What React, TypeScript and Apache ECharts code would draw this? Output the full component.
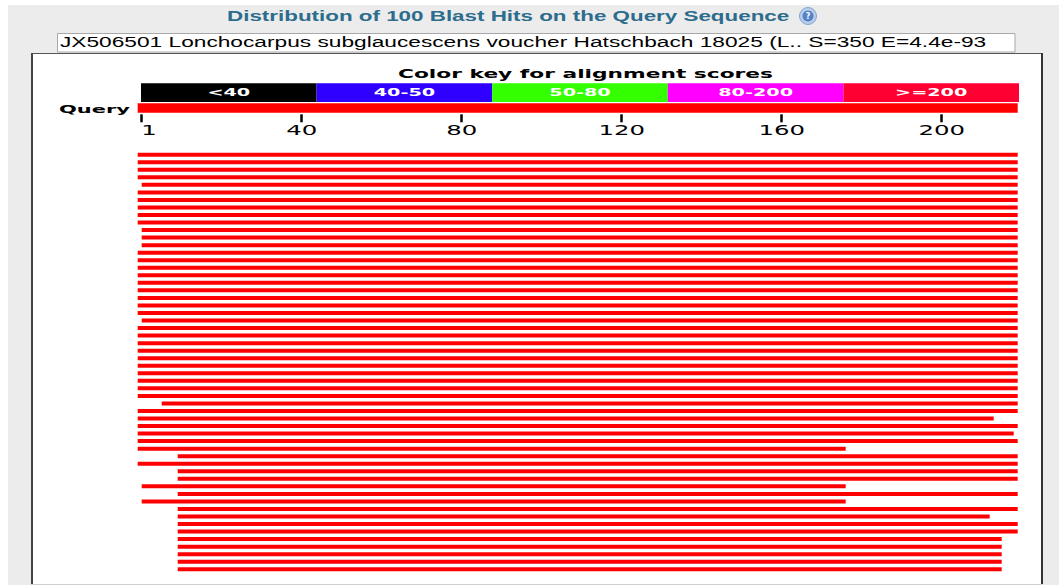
import React, { useEffect, useRef } from "react";
import * as echarts from "echarts";

const TITLE = "Distribution of 100 Blast Hits on the Query Sequence";
const HIT_DESC = "JX506501 Lonchocarpus subglaucescens voucher Hatschbach 18025 (L.. S=350 E=4.4e-93";
const KEY_TITLE = "Color key for alignment scores";
const KEY_LABELS = ["<40", "40-50", "50-80", "80-200", ">=200"];
const KEY_COLORS = ["#000000", "#2f00ff", "#33ff00", "#ff00ff", "#ff0033"];
const QUERY_LABEL = "Query";
const QUERY_LEN = 220;
const TICK_VALUES = [1, 41, 81, 121, 161, 201];
const TICK_LABELS = ["1", "40", "80", "120", "160", "200"];

const HIT_START = [
  1, 1, 1, 1, 2, 1, 1, 1, 1, 1, 2, 2, 2, 1, 1, 1, 1, 1, 1, 1, 1, 1, 2, 1, 1, 1, 1, 1, 1, 1, 1, 1, 1, 7,
  1, 1, 1, 1, 1, 1, 11, 1, 11, 11, 2, 11, 2, 11, 11, 11, 11, 11, 11, 11, 11, 11,
];
const HIT_END = [
  220, 220, 220, 220, 220, 220, 220, 220, 220, 220, 220, 220, 220, 220, 220, 220, 220, 220, 220, 220,
  220, 220, 220, 220, 220, 220, 220, 220, 220, 220, 220, 220, 220, 220, 220, 214, 220, 219, 220, 177,
  220, 220, 220, 220, 177, 220, 177, 220, 213, 220, 220, 216, 216, 216, 216, 216,
];

const canvasCtx = document.createElement("canvas").getContext("2d");
function measure(text: string, font: string): number {
  if (!canvasCtx) return text.length * 7;
  canvasCtx.font = font;
  return canvasCtx.measureText(text).width || 1;
}
function fitScale(text: string, font: string, target: number): number {
  return target / measure(text, font);
}

const F_TITLE = 'bold 15px "Liberation Sans"';
const F_DESC = '15px "Liberation Sans"';
const F_KEYTITLE = 'bold 12px "DejaVu Sans"';
const F_KEY = 'bold 10px "DejaVu Sans"';
const F_QUERY = 'bold 10px "DejaVu Sans"';
const F_TICK = '14px "DejaVu Sans"';

export default function App() {
  const ref = useRef<HTMLDivElement>(null);
  useEffect(() => {
    const chart = echarts.init(ref.current!, null, { renderer: "svg" });

    const keyTargets = [40, 65, 63, 77, 68];
    const keyScale =
      keyTargets.reduce((a, b) => a + b, 0) /
      KEY_LABELS.reduce((a, t) => a + measure(t, F_KEY), 0);

    const hitData = HIT_START.map((s, i) => [s, HIT_END[i], i + 1]);

    const option: any = {
      animation: false,
      backgroundColor: "#ffffff",
      grid: [
        { left: 137.7, top: 150.93, width: 880, height: 422.1 },
        { left: 137.7, top: 103.3, width: 880, height: 11 },
        { left: 141, top: 83.3, width: 878, height: 18.7 },
      ],
      xAxis: [
        { type: "value", gridIndex: 0, min: 0, max: QUERY_LEN, show: false },
        {
          type: "value",
          gridIndex: 1,
          min: 0,
          max: QUERY_LEN,
          position: "bottom",
          axisLine: { show: false },
          splitLine: { show: false },
          axisTick: {
            show: true,
            customValues: TICK_VALUES,
            length: 8,
            lineStyle: { color: "#000", width: 2.5 },
          },
          axisLabel: { show: false },
        },
        { type: "value", gridIndex: 2, min: 0, max: KEY_LABELS.length, show: false },
      ],
      yAxis: [
        { type: "value", gridIndex: 0, min: 0.5, max: HIT_START.length + 0.5, inverse: true, show: false },
        { type: "value", gridIndex: 1, min: 0, max: 1, show: false },
        { type: "value", gridIndex: 2, min: 0, max: 1, show: false },
      ],
      series: [
        {
          type: "custom",
          xAxisIndex: 0,
          yAxisIndex: 0,
          data: hitData,
          renderItem: (params: any, api: any) => {
            const a = api.coord([api.value(0) - 1, api.value(2)]);
            const b = api.coord([api.value(1), api.value(2)]);
            return {
              type: "rect",
              shape: { x: a[0], y: a[1] - 2, width: b[0] - a[0], height: 4 },
              style: { fill: "#ff0000" },
            };
          },
        },
        {
          type: "custom",
          xAxisIndex: 1,
          yAxisIndex: 1,
          data: [[0, QUERY_LEN]],
          renderItem: (params: any, api: any) => {
            const a = api.coord([api.value(0), 1]);
            const b = api.coord([api.value(1), 1]);
            return {
              type: "rect",
              shape: { x: a[0], y: a[1], width: b[0] - a[0], height: 9.4 },
              style: { fill: "#ff0000" },
            };
          },
        },
        {
          type: "custom",
          xAxisIndex: 2,
          yAxisIndex: 2,
          data: KEY_LABELS.map((_, i) => [i]),
          renderItem: (params: any, api: any) => {
            const i = api.value(0);
            const p0 = api.coord([i, 1]);
            const p1 = api.coord([i + 1, 0]);
            return {
              type: "group",
              children: [
                {
                  type: "rect",
                  shape: { x: p0[0], y: p0[1], width: p1[0] - p0[0], height: p1[1] - p0[1] },
                  style: { fill: KEY_COLORS[i] },
                },
                {
                  type: "text",
                  x: (p0[0] + p1[0]) / 2,
                  y: (p0[1] + p1[1]) / 2 + 0.5,
                  scaleX: keyScale,
                  style: {
                    text: KEY_LABELS[i],
                    fill: "#ffffff",
                    font: F_KEY,
                    align: "center",
                    verticalAlign: "middle",
                  },
                },
              ],
            };
          },
        },
      ],
    };
    chart.setOption(option);

    const tickTargets = [9, 31.6, 32, 47, 47.7, 50];
    const tickScale =
      tickTargets.reduce((a, b) => a + b, 0) /
      TICK_LABELS.reduce((a, t) => a + measure(t, F_TICK), 0);
    const tickTexts = TICK_VALUES.map((v, i) => {
      const px = chart.convertToPixel({ xAxisIndex: 1 }, v) as number;
      const first = i === 0;
      return {
        type: "text",
        x: first ? px - 0.5 : px,
        y: 130,
        scaleX: tickScale,
        z: 10,
        style: {
          text: TICK_LABELS[i],
          fill: "#000",
          font: F_TICK,
          align: first ? "left" : "center",
          verticalAlign: "middle",
        },
      };
    });

    const graphic: any[] = [
      { type: "rect", z: -5, shape: { x: 8, y: 5, width: 1051, height: 580 }, style: { fill: "#ececec" } },
      { type: "rect", z: -4, shape: { x: 31, y: 53, width: 1011, height: 531 }, style: { fill: "#ffffff" } },
      { type: "line", z: -3, shape: { x1: 31, y1: 53.5, x2: 1042, y2: 53.5 }, style: { stroke: "#555", lineWidth: 1 } },
      { type: "line", z: -3, shape: { x1: 32, y1: 53, x2: 32, y2: 584 }, style: { stroke: "#444", lineWidth: 2 } },
      { type: "line", z: -3, shape: { x1: 1042, y1: 53, x2: 1042, y2: 584 }, style: { stroke: "#333", lineWidth: 2 } },
      { type: "line", z: -3, shape: { x1: 31, y1: 584.5, x2: 1042, y2: 584.5 }, style: { stroke: "#d0d0d0", lineWidth: 1 } },
      {
        type: "rect",
        z: -2,
        shape: { x: 57.5, y: 33.5, width: 957.5, height: 18.5 },
        style: { fill: "#ffffff", stroke: "#a8a8a8", lineWidth: 1 },
      },
      {
        type: "text",
        x: 227,
        y: 15.5,
        scaleX: fitScale(TITLE, F_TITLE, 563),
        z: 10,
        style: { text: TITLE, fill: "#2d6c8c", font: F_TITLE, align: "left", verticalAlign: "middle" },
      },
      { type: "circle", z: 10, shape: { cx: 808, cy: 16, r: 8.5 }, style: { fill: "#b7cdea", stroke: "#86a6d2", lineWidth: 1 } },
      { type: "circle", z: 11, shape: { cx: 808, cy: 16, r: 5.5 }, style: { fill: "#5583c6" } },
      {
        type: "text",
        x: 808,
        y: 16.5,
        z: 12,
        style: { text: "?", fill: "#ffffff", font: 'bold 8px "DejaVu Sans"', align: "center", verticalAlign: "middle" },
      },
      {
        type: "text",
        x: 60,
        y: 42,
        scaleX: fitScale(HIT_DESC, F_DESC, 927),
        z: 10,
        style: { text: HIT_DESC, fill: "#000000", font: F_DESC, align: "left", verticalAlign: "middle" },
      },
      {
        type: "text",
        x: 398,
        y: 74.3,
        scaleX: fitScale(KEY_TITLE, F_KEYTITLE, 375),
        z: 10,
        style: { text: KEY_TITLE, fill: "#000000", font: F_KEYTITLE, align: "left", verticalAlign: "middle" },
      },
      {
        type: "text",
        x: 59,
        y: 109.5,
        scaleX: fitScale(QUERY_LABEL, F_QUERY, 71),
        z: 10,
        style: { text: QUERY_LABEL, fill: "#000000", font: F_QUERY, align: "left", verticalAlign: "middle" },
      },
      ...tickTexts,
    ];
    chart.setOption({ graphic });

    return () => chart.dispose();
  }, []);
  return <div ref={ref} style={{ position: "fixed", left: 0, top: 0, width: 1059, height: 585 }} />;
}
